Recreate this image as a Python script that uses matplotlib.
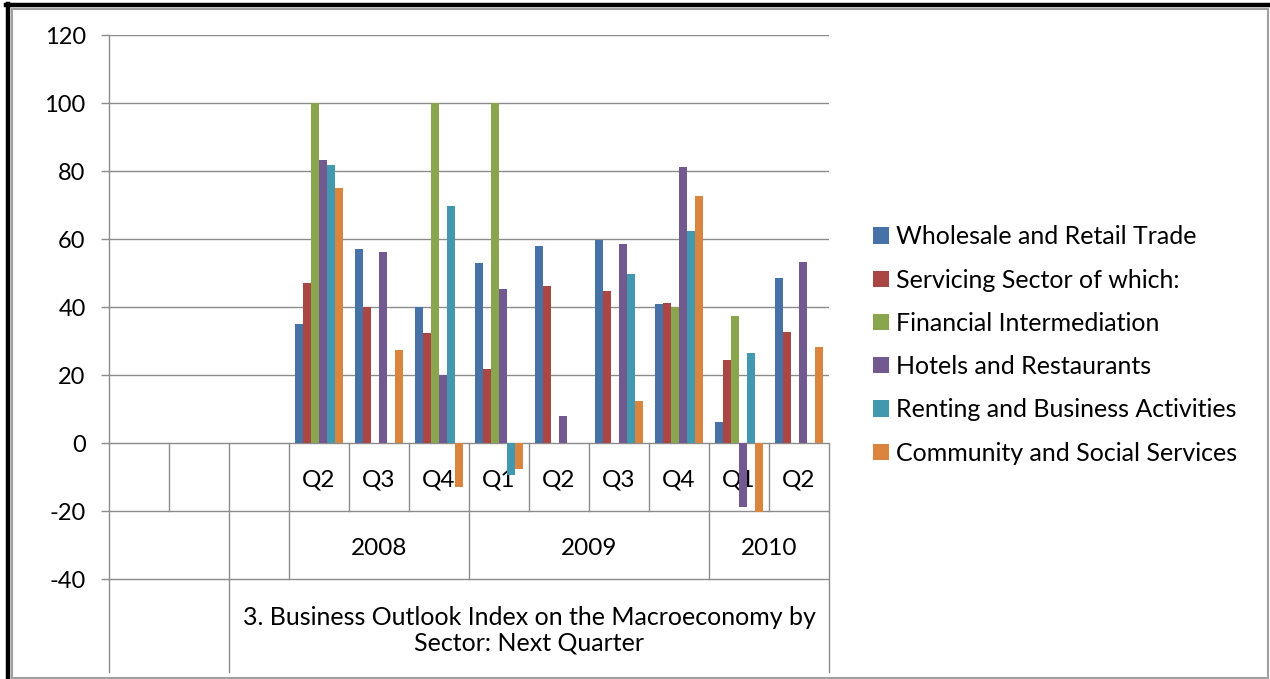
import numpy as np
import matplotlib
matplotlib.use("Agg")
import matplotlib.pyplot as plt
from matplotlib.lines import Line2D
from matplotlib.patches import Rectangle

plt.rcParams['font.family'] = ['Lato', 'DejaVu Sans']

nan = np.nan
quarters = ['', '', '', 'Q2', 'Q3', 'Q4', 'Q1', 'Q2', 'Q3', 'Q4', 'Q1', 'Q2']
years = ['2008', '2009', '2010']
year_spans = [(3, 5), (6, 9), (10, 11)]
axis_title = "3. Business Outlook Index on the Macroeconomy by\nSector: Next Quarter"

series_names = ['Wholesale and Retail Trade', 'Servicing Sector of which:',
                'Financial Intermediation', 'Hotels and Restaurants',
                'Renting and Business Activities', 'Community and Social Services']
wholesale = [nan, nan, nan, 35, 57, 40, 53, 58, 59.6, 40.8, 6.1, 48.6]
servicing = [nan, nan, nan, 47, 40, 32.3, 21.8, 46.3, 44.6, 41.2, 24.5, 32.6]
financial = [nan, nan, nan, 100, nan, 100, 100, nan, nan, 40, 37.5, nan]
hotels = [nan, nan, nan, 83.3, 56.1, 20, 45.2, 7.8, 58.4, 81.3, -18.8, 53.3]
renting = [nan, nan, nan, 81.7, nan, 69.7, -9.4, nan, 49.7, 62.3, 26.6, nan]
community = [nan, nan, nan, 75, 27.3, -12.8, -7.5, nan, 12.3, 72.5, -20.2, 28.2]
colors = ['#4672A8', '#AA4643', '#89A54E', '#725990', '#4198AF', '#DB843D']

W, H = 1270, 679
fig = plt.figure(figsize=(W / 100, H / 100), dpi=100)

def fx(px):
    return px / W

def fy(py):
    return 1 - py / H

# plot area: x 109..829, y 35 (120) .. 672 (bottom)
ymax, ymin = 120, 120 - (672 - 35) / 3.4
ax = fig.add_axes([fx(109), fy(672), fx(829) - fx(109), fy(35) - fy(672)])
ax.set_xlim(-0.5, 11.5)
ax.set_ylim(ymin, ymax)

grid_c = '#8c8c8c'
yt = np.arange(-40, 121, 20)
ax.set_yticks(yt)
ax.set_yticklabels([str(v) for v in yt])
for v in yt:
    ax.axhline(v, color=grid_c, lw=1.0, zorder=0.5)
ax.tick_params(axis='y', length=5.8, width=1, color=grid_c, pad=11, labelsize=17,
               labelcolor='#000000')
ax.set_xticks([])
for s in ['top', 'right', 'bottom']:
    ax.spines[s].set_visible(False)
ax.spines['left'].set_color(grid_c)
ax.spines['left'].set_linewidth(1.0)

# bars
x = np.arange(len(quarters))
data = [wholesale, servicing, financial, hotels, renting, community]
n = len(data)
bw = 0.79 / n
handles = []
for i, (vals, c, name) in enumerate(zip(data, colors, series_names)):
    b = ax.bar(x + (i - (n - 1) / 2) * bw, vals, width=bw, color=c,
               edgecolor='none', zorder=3, label=name)
    handles.append(b)

# category table dividers
for k in range(len(quarters)):
    bx = k + 0.5
    if bx in (1.5, 11.5):
        bot = ymin
    elif bx in (2.5, 5.5, 9.5):
        bot = -40
    else:
        bot = -20
    ax.plot([bx, bx], [0, bot], color=grid_c, lw=1.0, zorder=0.6, clip_on=False)

for k, q in enumerate(quarters):
    if q:
        ax.text(k, -11, q, ha='center', va='center', fontsize=17.5, zorder=1)
for yr, (a, b) in zip(years, year_spans):
    ax.text((a + b) / 2, -31, yr, ha='center', va='center', fontsize=17.5, zorder=1)
ax.text(6.5, -55, axis_title, ha='center', va='center', fontsize=18,
        linespacing=1.14, zorder=1)

# legend
leg = fig.legend(handles=handles, labels=series_names, loc='center left',
                 bbox_to_anchor=(fx(873), fy(345)), frameon=False,
                 fontsize=18, handlelength=0.62, handleheight=0.62,
                 handletextpad=0.3, labelspacing=0.81, borderpad=0,
                 borderaxespad=0)

# chart border
fig.add_artist(Rectangle((fx(11.5), fy(677.5)), fx(1268) - fx(11.5), fy(8.5) - fy(677.5),
                         transform=fig.transFigure, fill=False, edgecolor='#a0a0a0', lw=1.5))
fig.add_artist(Line2D([fx(6), 1], [fy(5), fy(5)], transform=fig.transFigure,
                      color='black', lw=3.2))
fig.add_artist(Line2D([fx(8), fx(8)], [fy(3.5), 0], transform=fig.transFigure,
                      color='black', lw=3.2))

fig.savefig('out.png', dpi=100, facecolor='white')
